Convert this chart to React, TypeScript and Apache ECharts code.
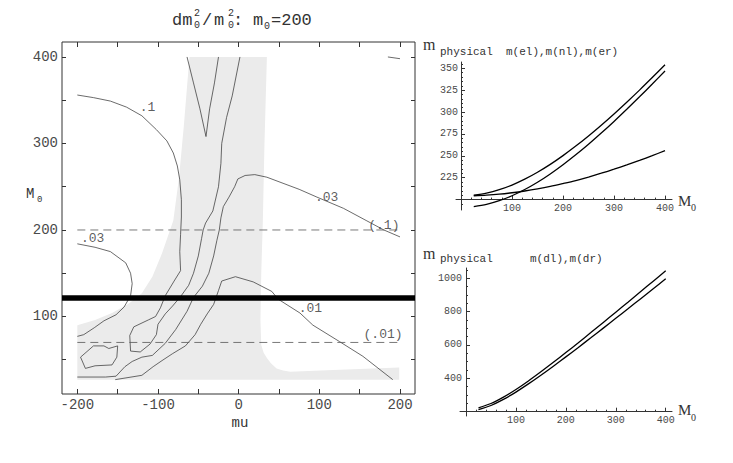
import React, { useEffect, useRef } from 'react';
import * as echarts from 'echarts';

// ---------- left panel: contour plot dm0^2/m0^2, m0 = 200 ----------
const muTicks = [-200, -150, -100, -50, 0, 50, 100, 150, 200];
const muLabels = [-200, -100, 0, 100, 200];
const M0Ticks = [50, 100, 150, 200, 250, 300, 350, 400];
const M0Labels = [100, 200, 300, 400];

const shadeRegion = [
  [-61, 400], [35, 400], [32, 300], [30, 211], [28, 150], [27, 96], [28, 67], [31, 58], [35, 52],
  [40, 46], [47, 40], [55, 37.5], [64, 36], [117, 38], [199, 41], [199, 27], [-200, 27], [-200, 90],
  [-178, 96], [-157, 104], [-136, 115], [-120, 127], [-107, 146], [-95, 173], [-81, 211], [-74, 260],
  [-68, 320], [-61, 400],
];

const contourTenth = [
  [-200, 356], [-180, 353], [-159, 349], [-139, 342], [-120, 332], [-102, 316], [-89, 303], [-81, 289],
  [-76, 274], [-73, 258], [-71, 235], [-71, 215], [-72, 195], [-73, 175], [-72, 153], [-80, 141],
  [-91, 124], [-97, 110], [-103, 100], [-112, 96], [-130, 88], [-135, 78], [-134, 60], [-122, 59],
  [-110, 68], [-102, 79], [-100, 91], [-91, 103], [-82, 112], [-72, 123], [-62, 136], [-56, 150],
  [-50, 170], [-46, 190], [-44, 200], [-41, 208], [-32, 222], [-25, 250], [-22, 277], [-21, 300],
  [-15, 330], [-8, 355], [1.6, 400],
];
const contourV = [[-64, 400], [-56, 370], [-48, 340], [-40.5, 308], [-36, 340], [-30, 370], [-25, 400]];
const contour03Right = [
  [200, 192], [180, 200], [158, 211], [130, 225], [97, 238], [75, 247], [55, 254], [35, 261], [20, 264],
  [8, 263], [-1, 259], [-5, 250], [-12, 238], [-19, 227], [-22, 214], [-24, 200], [-27, 188], [-31, 170],
  [-37, 150], [-45, 135], [-56, 122], [-64, 106], [-78, 85], [-91, 69], [-107, 55], [-120, 53],
  [-132, 48], [-141, 42], [-152, 31], [-165, 30], [-200, 30],
];
const contour03Left = [
  [-200, 184], [-178, 180], [-159, 175], [-140, 162], [-134, 150], [-132, 138], [-134, 124], [-142, 111],
  [-152, 102], [-167, 95], [-179, 87], [-192, 79], [-200, 77],
];
const contourLoop = [
  [-196, 53], [-180, 66], [-167, 66], [-161, 63], [-150, 66], [-151, 53], [-157, 44], [-178, 43],
  [-190, 40], [-196, 53],
];
const contour01 = [
  [-153, 27], [-120, 32], [-106, 42], [-95, 49], [-82, 57], [-66, 66], [-54, 79], [-47, 91], [-39, 103],
  [-31, 114], [-25, 130], [-21, 141], [-4, 146], [18, 140], [41, 129], [49, 120], [76, 104], [92, 90],
  [125, 71], [154, 54], [191, 27],
];
const contourCorner = [[185, 400], [200, 398]];
const dashedLevels = [200, 70];
const dashedSpan = [-200, 200];
const cutLevel = 122;
const contourLabels = [
  { name: '.1', value: [-113, 342] },
  { name: '.03', value: [109, 238] },
  { name: '(.1)', value: [180, 205] },
  { name: '.03', value: [-181, 190] },
  { name: '.01', value: [89, 109] },
  { name: '(.01)', value: [179, 79] },
];

// ---------- right panels ----------
const m0Values = [25, 50, 75, 100, 125, 150, 175, 200, 225, 250, 275, 300, 325, 350, 375, 400];
const mEL = [205, 207.4, 211.3, 216.6, 223.3, 231.2, 240.2, 250.2, 261.1, 272.7, 285, 297.9, 311.3, 325.1, 339.4, 354];
const mNL = [192, 194.5, 198.7, 204.4, 211.5, 219.8, 229.3, 239.8, 251.1, 263.2, 276, 289.3, 303.2, 317.4, 332, 347];
const mER = [204.4, 205.1, 206.2, 207.8, 209.8, 212.2, 215, 218.3, 221.8, 225.8, 230.1, 234.7, 239.6, 244.8, 250.2, 255.9];
const mDL = [223, 248.9, 287, 333, 384.2, 438.8, 495.5, 553.8, 613.3, 673.5, 734.3, 795.7, 857.4, 919.4, 981.6, 1044];
const mDR = [212, 236.8, 273.2, 317.3, 366.2, 418.2, 472.4, 528.1, 584.8, 642.3, 700.4, 759, 817.8, 877, 936.4, 996];

const topXLabels = [100, 200, 300, 400];
const topXMinor = [20, 40, 60, 80, 120, 140, 160, 180, 220, 240, 260, 280, 320, 340, 360, 380];
const topYLabels = [225, 250, 275, 300, 325, 350];
const topYMinor = [195, 205, 210, 215, 220, 230, 235, 240, 245, 255, 260, 265, 270, 280, 285, 290, 295, 305, 310, 315, 320, 330, 335, 340, 345, 355];
const botXLabels = [100, 200, 300, 400];
const botXMinor = [20, 40, 60, 80, 120, 140, 160, 180, 220, 240, 260, 280, 320, 340, 360, 380];
const botYLabels = [400, 600, 800, 1000];
const botYMinor = [250, 300, 350, 450, 500, 550, 650, 700, 750, 850, 900, 950, 1050];

const MONO = '"Liberation Mono", "Courier New", monospace';
const SERIF = '"Liberation Serif", "Times New Roman", serif';
const INK = '#333';
const LABEL = '#4a4a4a';

const zip = (xs: number[], ys: number[]) => xs.map((x, i) => [x, ys[i]]);

function buildOption() {
  const frameAxis = (extra: any) => ({
    type: 'value',
    splitLine: { show: false },
    axisLine: { show: false, onZero: false },
    ...extra,
  });
  const tick = (vals: number[], len: number) => ({
    show: true, inside: true, length: len, customValues: vals, lineStyle: { color: INK, width: 1 },
  });
  const lbl = (vals: number[], size: number, margin: number) => ({
    show: true, customValues: vals, fontFamily: MONO, fontSize: size, color: LABEL, margin,
    formatter: (v: number) => String(v),
  });
  const noLbl = { show: false };
  const line = { show: true, onZero: false, lineStyle: { color: INK, width: 1 } };

  const xAxis: any[] = [
    frameAxis({ gridIndex: 0, position: 'bottom', min: -219, max: 218.6, axisTick: tick(muTicks, 5), axisLabel: lbl(muLabels, 14, 4) }),
    frameAxis({ gridIndex: 0, position: 'top', min: -219, max: 218.6, axisTick: tick(muTicks, 5), axisLabel: noLbl }),
    { type: 'value', gridIndex: 1, position: 'bottom', offset: -10.4, min: -9.8, max: 413.7, splitLine: { show: false }, axisLine: line, axisTick: tick(topXLabels, 4), axisLabel: lbl(topXLabels, 10, 4) },
    { type: 'value', gridIndex: 1, position: 'bottom', offset: -10.4, min: -9.8, max: 413.7, splitLine: { show: false }, axisLine: { show: false, onZero: false }, axisTick: tick(topXMinor, 2), axisLabel: noLbl },
    { type: 'value', gridIndex: 2, position: 'bottom', offset: -4.3, min: -12, max: 412.6, splitLine: { show: false }, axisLine: line, axisTick: tick(botXLabels, 4), axisLabel: lbl(botXLabels, 10, 4) },
    { type: 'value', gridIndex: 2, position: 'bottom', offset: -4.3, min: -12, max: 412.6, splitLine: { show: false }, axisLine: { show: false, onZero: false }, axisTick: tick(botXMinor, 2), axisLabel: noLbl },
  ];
  const yAxis: any[] = [
    frameAxis({ gridIndex: 0, position: 'left', min: 10.4, max: 417.3, axisTick: tick(M0Ticks, 4), axisLabel: lbl(M0Labels, 14, 4) }),
    frameAxis({ gridIndex: 0, position: 'right', min: 10.4, max: 417.3, axisTick: tick(M0Ticks, 4), axisLabel: noLbl }),
    { type: 'value', gridIndex: 1, position: 'left', offset: -5, min: 188.1, max: 357.2, splitLine: { show: false }, axisLine: line, axisTick: tick(topYLabels, 4), axisLabel: lbl(topYLabels, 10, 3) },
    { type: 'value', gridIndex: 1, position: 'left', offset: -5, min: 188.1, max: 357.2, splitLine: { show: false }, axisLine: { show: false, onZero: false }, axisTick: tick(topYMinor, 2), axisLabel: noLbl },
    { type: 'value', gridIndex: 2, position: 'left', offset: -6, min: 174, max: 1060.5, splitLine: { show: false }, axisLine: line, axisTick: tick(botYLabels, 4), axisLabel: lbl(botYLabels, 10, 4) },
    { type: 'value', gridIndex: 2, position: 'left', offset: -6, min: 174, max: 1060.5, splitLine: { show: false }, axisLine: { show: false, onZero: false }, axisTick: tick(botYMinor, 2), axisLabel: noLbl },
  ];

  const contour = (data: number[][]) => ({
    type: 'line', xAxisIndex: 0, yAxisIndex: 0, data, symbol: 'none', showSymbol: false, silent: true,
    lineStyle: { color: '#3a3a3a', width: 0.75 },
  });
  const curve = (data: number[][], xi: number, yi: number) => ({
    type: 'line', xAxisIndex: xi, yAxisIndex: yi, data, symbol: 'none', showSymbol: false, silent: true,
    smooth: 0.3, clip: false, lineStyle: { color: '#000', width: 1.3 },
  });

  const series: any[] = [
    {
      type: 'custom', xAxisIndex: 0, yAxisIndex: 0, data: [0], silent: true,
      renderItem: (_p: any, api: any) => ({
        type: 'polygon',
        shape: { points: shadeRegion.map((p) => api.coord(p)) },
        style: { fill: '#ebebeb' },
      }),
    },
    contour(contourTenth),
    contour(contourV),
    contour(contour03Right),
    contour(contour03Left),
    contour(contourLoop),
    contour(contour01),
    contour(contourCorner),
    ...dashedLevels.map((lv) => ({
      type: 'line', xAxisIndex: 0, yAxisIndex: 0, symbol: 'none', showSymbol: false, silent: true,
      data: [[dashedSpan[0], lv], [dashedSpan[1], lv]],
      lineStyle: { color: '#555', width: 0.8, type: [8, 5] },
    })),
    {
      type: 'scatter', xAxisIndex: 0, yAxisIndex: 0, data: contourLabels, symbolSize: 1, silent: true,
      itemStyle: { color: 'rgba(0,0,0,0)' },
      label: { show: true, position: 'inside', formatter: '{b}', fontFamily: MONO, fontSize: 13, color: INK },
      markLine: {
        silent: true, symbol: ['none', 'none'], label: { show: false },
        lineStyle: { color: '#000', width: 5.5, type: 'solid' },
        data: [{ yAxis: cutLevel }],
      },
    },
    curve(zip(m0Values, mEL), 2, 2),
    curve(zip(m0Values, mNL), 2, 2),
    curve(zip(m0Values, mER), 2, 2),
    curve(zip(m0Values, mDL), 4, 4),
    curve(zip(m0Values, mDR), 4, 4),
  ];

  const t = (text: string, x: number, y: number, size: number, family = MONO, align = 'left') => ({
    type: 'text', x, y, silent: true,
    style: { text, font: `${size}px ${family}`, fill: INK, align, verticalAlign: 'middle' },
  });

  const graphic = [
    // title
    t('dm', 172, 20, 17),
    t('2', 194, 13, 10),
    t('0', 194, 25, 10),
    t('/', 202, 20, 17),
    t('m', 214, 20, 17),
    t('2', 228, 13, 10),
    t('0', 228, 25, 10),
    t(':', 233, 20, 17),
    t('m', 253, 20, 17),
    t('0', 264, 26, 10),
    t('=200', 271, 20, 17),
    // left axis names
    t('M', 26, 194, 14),
    t('0', 37, 200, 9),
    t('mu', 240, 423, 14, MONO, 'center'),
    // top right
    t('m', 423, 44, 16, SERIF),
    t('physical', 440, 52, 11),
    t('m(el),m(nl),m(er)', 506, 52, 11),
    t('M', 678, 201, 15, SERIF),
    t('0', 691, 207, 10, SERIF),
    // bottom right
    t('m', 423, 253, 16, SERIF),
    t('physical', 440, 259, 11),
    t('m(dl),m(dr)', 530, 259, 11),
    t('M', 678, 410, 15, SERIF),
    t('0', 691, 417, 10, SERIF),
  ];

  return {
    animation: false,
    backgroundColor: '#fff',
    grid: [
      { left: 62, top: 42, width: 353, height: 352, show: true, borderColor: INK, borderWidth: 1, backgroundColor: 'transparent', outerBoundsMode: 'none' },
      { left: 456, top: 62, width: 216, height: 148, outerBoundsMode: 'none' },
      { left: 460, top: 268, width: 212, height: 148, outerBoundsMode: 'none' },
    ],
    xAxis,
    yAxis,
    series,
    graphic,
  };
}

export default function App() {
  const ref = useRef<HTMLDivElement>(null);
  useEffect(() => {
    document.body.style.margin = '0';
    const chart = echarts.init(ref.current!, null, { renderer: 'svg' });
    chart.setOption(buildOption() as any);
    return () => chart.dispose();
  }, []);
  return <div ref={ref} style={{ width: 733, height: 463 }} />;
}
